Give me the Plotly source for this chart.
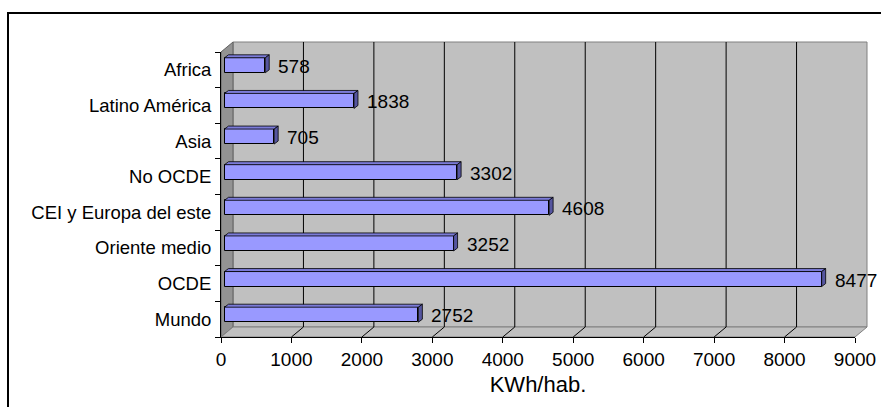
import plotly.graph_objects as go

categories = ["Mundo", "OCDE", "Oriente medio", "CEI y Europa del este",
              "No OCDE", "Asia", "Latino América", "Africa"]
values = [2752, 8477, 3252, 4608, 3302, 705, 1838, 578]
x_ticks = [0, 1000, 2000, 3000, 4000, 5000, 6000, 7000, 8000, 9000]
x_title = "KWh/hab."

FONT = "Liberation Sans, Arial, sans-serif"
W, H = 881, 407
ML, MR, MT, MB = 221, 26, 52, 70
PW, PH = W - ML - MR, H - MT - MB
XMAX = 9000
DX, DY = 12, 10          # wall depth in px
BDX, BDY = 4, 3          # bar depth in px
BAR_PX = 15
n = len(categories)
idx = list(range(n))
px_per_cat = PH / n

def px(x):
    return x / PW
def py(y):
    return y / PH

fig = go.Figure()

# shift of bars (mid-depth) in px
SX, SY = 3.5, 4.5
x2_off = SX * XMAX / PW
y2_off = SY / px_per_cat

fig.add_trace(go.Bar(
    x=values, y=idx, orientation="h", xaxis="x2", yaxis="y2",
    width=BAR_PX / px_per_cat,
    marker=dict(color="#9999FF", line=dict(color="#000000", width=1)),
    hoverinfo="x+text", text=categories, textposition="none",
))

shapes = []
# outer border
shapes.append(dict(type="rect", xref="paper", yref="paper",
                   x0=(8 - ML) / PW, x1=2, y0=-1, y1=(PH + MT - 13) / PH,
                   line=dict(color="black", width=2), fillcolor="rgba(0,0,0,0)",
                   layer="below"))
# back wall
shapes.append(dict(type="path", xref="paper", yref="paper", layer="below",
                   path=f"M {px(DX)},{py(DY)} L {1+px(DX)},{py(DY)} L {1+px(DX)},{1+py(DY)} L {px(DX)},{1+py(DY)} Z",
                   fillcolor="#C0C0C0", line=dict(color="#808080", width=1)))
# left wall
shapes.append(dict(type="path", xref="paper", yref="paper", layer="below",
                   path=f"M 0,0 L {px(DX)},{py(DY)} L {px(DX)},{1+py(DY)} L 0,1 Z",
                   fillcolor="#939393", line=dict(color="#606060", width=1)))
# floor
shapes.append(dict(type="path", xref="paper", yref="paper", layer="below",
                   path=f"M 0,0 L 1,0 L {1+px(DX)},{py(DY)} L {px(DX)},{py(DY)} Z",
                   fillcolor="#C0C0C0", line=dict(color="#808080", width=1)))
# gridlines (back wall + floor)
for v in x_ticks[1:-1]:
    shapes.append(dict(type="path", xref="x", yref="paper", layer="below",
                       xsizemode="pixel", xanchor=v,
                       path=f"M 0,0 L {DX},{py(DY)} L {DX},{1+py(DY)}",
                       line=dict(color="#000000", width=1)))
# bar 3D faces
for i, v in zip(idx, values):
    hb = BAR_PX / 2
    dxd = BDX * XMAX / PW
    shapes.append(dict(type="path", xref="x2", yref="y2", layer="above",
                       ysizemode="pixel", yanchor=i,
                       path=f"M 0,{hb} L {dxd},{hb+BDY} L {v+dxd},{hb+BDY} L {v},{hb} Z",
                       fillcolor="#7B7BD8", line=dict(color="#000000", width=0.8)))
    shapes.append(dict(type="path", xref="x2", yref="y2", layer="above",
                       xsizemode="pixel", xanchor=v, ysizemode="pixel", yanchor=i,
                       path=f"M 0,{-hb} L 0,{hb} L {BDX},{hb+BDY} L {BDX},{-hb+BDY} Z",
                       fillcolor="#55559F", line=dict(color="#000000", width=0.8)))

annotations = []
for i, v in zip(idx, values):
    annotations.append(dict(x=v, y=i, xref="x2", yref="y2", text=str(v),
                            showarrow=False, xanchor="left", yanchor="middle",
                            xshift=11, yshift=-1,
                            font=dict(family=FONT, size=19, color="black")))

fig.update_layout(
    width=W, height=H,
    margin=dict(l=ML, r=MR, t=MT, b=MB, autoexpand=False),
    paper_bgcolor="white", plot_bgcolor="rgba(0,0,0,0)",
    showlegend=False,
    font=dict(family=FONT, color="black"),
    shapes=shapes, annotations=annotations,
    xaxis=dict(range=[0, XMAX], tickvals=x_ticks, ticktext=[str(t) for t in x_ticks],
               showgrid=False, zeroline=False, showline=True, linecolor="black",
               linewidth=1, ticks="outside", ticklen=5, tickcolor="black",
               tickfont=dict(family=FONT, size=19),
               title=dict(text=x_title, font=dict(family=FONT, size=22), standoff=7),
               automargin=False, fixedrange=True),
    yaxis=dict(range=[-0.5, n - 0.5], tickvals=idx, ticktext=categories,
               showgrid=False, zeroline=False, showline=True, linecolor="black",
               linewidth=1, ticks="", tickfont=dict(family=FONT, size=18.5),
               minor=dict(tickvals=[k - 0.5 for k in range(n + 1)], ticks="outside",
                          ticklen=5, tickcolor="black"),
               ticklabelstandoff=5,
               automargin=False, fixedrange=True),
    xaxis2=dict(range=[-x2_off, XMAX - x2_off], overlaying="x", anchor="y2",
                visible=False, fixedrange=True),
    yaxis2=dict(range=[-0.5 - y2_off, n - 0.5 - y2_off], overlaying="y", anchor="x2",
                visible=False, fixedrange=True),
    bargap=0,
)

fig.write_html("out.html", config={"displayModeBar": False},
               post_script="document.body.style.margin='0';document.body.style.overflow='hidden';")
